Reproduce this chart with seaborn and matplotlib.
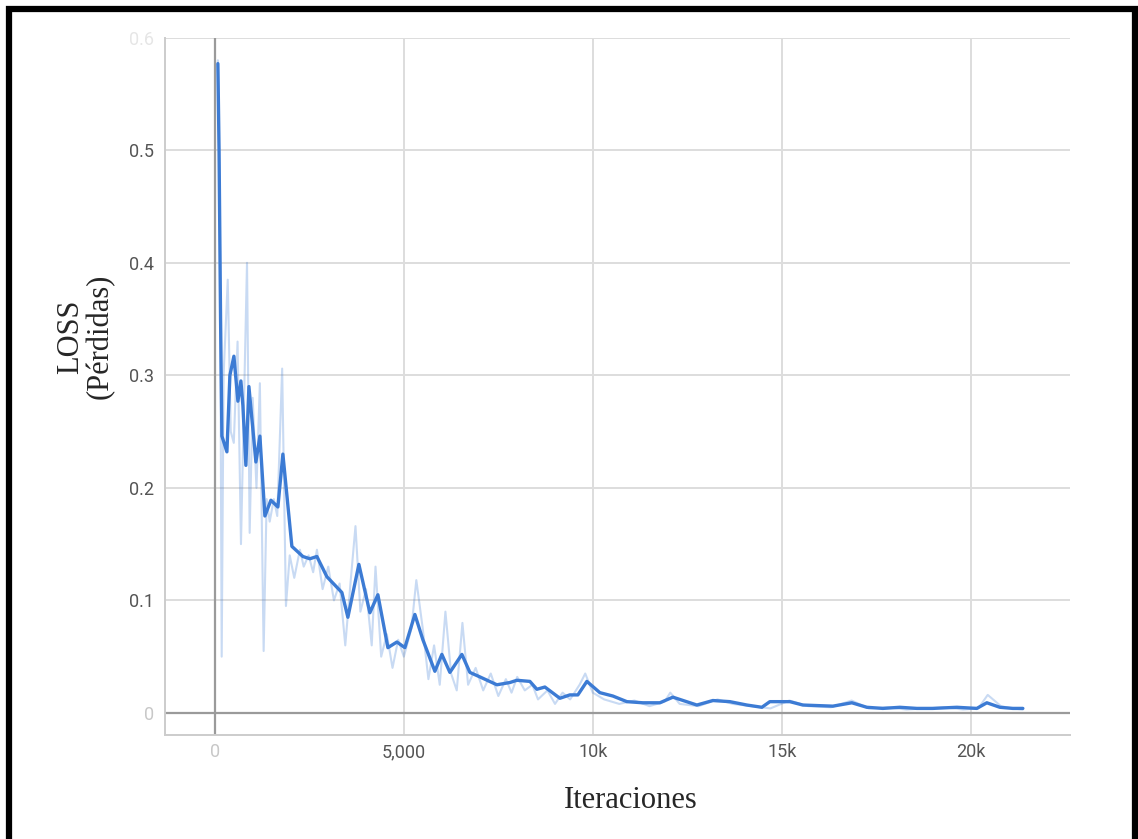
import numpy as np
import pandas as pd
import seaborn as sns
import matplotlib.pyplot as plt
from matplotlib.patches import Rectangle

# smoothed loss curve
smooth_steps = [79, 110, 150, 185, 318, 397, 503, 609, 688, 741, 820, 900, 1085, 1191,
                1323, 1482, 1667, 1799, 2037, 2328, 2514, 2699, 2964, 3360, 3519, 3810,
                4101, 4313, 4578, 4816, 5027, 5292, 5504, 5821, 6006, 6218, 6536, 6747,
                7012, 7462, 7806, 7991, 8335, 8520, 8732, 9129, 9393, 9605, 9843, 10187,
                10531, 10902, 11325, 11775, 12119, 12754, 13177, 13627, 14077, 14474,
                14685, 15215, 15558, 16352, 16855, 17252, 17675, 18125, 18575, 18998,
                19633, 20162, 20427, 20771, 21115, 21380]
smooth_loss = [0.577, 0.50, 0.35, 0.246, 0.232, 0.30, 0.317, 0.277, 0.295, 0.273, 0.22,
               0.29, 0.223, 0.246, 0.175, 0.189, 0.183, 0.230, 0.148, 0.139, 0.137, 0.139,
               0.121, 0.107, 0.085, 0.132, 0.089, 0.105, 0.058, 0.063, 0.058, 0.0875, 0.065,
               0.037, 0.052, 0.036, 0.052, 0.036, 0.032, 0.025, 0.027, 0.029, 0.028, 0.021,
               0.023, 0.013, 0.016, 0.016, 0.028, 0.018, 0.015, 0.010, 0.009, 0.009, 0.014,
               0.007, 0.011, 0.010, 0.007, 0.005, 0.010, 0.010, 0.007, 0.006, 0.009, 0.005,
               0.004, 0.005, 0.004, 0.004, 0.005, 0.004, 0.009, 0.005, 0.004, 0.004]

# raw (unsmoothed) loss, faint line behind
raw_steps = [79, 130, 180, 230, 340, 420, 500, 600, 690, 760, 850, 920, 1000, 1100, 1190,
             1290, 1370, 1450, 1560, 1650, 1780, 1880, 1980, 2100, 2250, 2350, 2480, 2600,
             2700, 2850, 3000, 3150, 3300, 3450, 3600, 3720, 3850, 4000, 4150, 4250, 4400,
             4550, 4700, 4850, 5000, 5200, 5330, 5500, 5650, 5800, 5950, 6100, 6250, 6400,
             6550, 6700, 6900, 7100, 7300, 7500, 7700, 7850, 8000, 8200, 8400, 8550, 8800,
             9000, 9200, 9400, 9650, 9800, 10000, 10300, 10700, 11100, 11500, 11900, 12050,
             12300, 12800, 13300, 13700, 14200, 14700, 15200, 15700, 16300, 16850, 17300,
             17800, 18300, 18800, 19300, 19800, 20200, 20450, 20800, 21100, 21380]
raw_loss = [0.58, 0.45, 0.05, 0.30, 0.385, 0.25, 0.24, 0.33, 0.15, 0.26, 0.40, 0.16, 0.28,
            0.20, 0.293, 0.055, 0.19, 0.17, 0.19, 0.175, 0.306, 0.095, 0.14, 0.12, 0.145,
            0.13, 0.14, 0.125, 0.145, 0.11, 0.13, 0.10, 0.115, 0.06, 0.12, 0.166, 0.09, 0.11,
            0.06, 0.13, 0.05, 0.07, 0.04, 0.065, 0.05, 0.075, 0.118, 0.075, 0.03, 0.06, 0.025,
            0.09, 0.035, 0.02, 0.08, 0.025, 0.04, 0.02, 0.035, 0.015, 0.03, 0.018, 0.032,
            0.02, 0.025, 0.012, 0.02, 0.008, 0.018, 0.012, 0.025, 0.035, 0.018, 0.012, 0.008,
            0.011, 0.006, 0.010, 0.018, 0.008, 0.006, 0.012, 0.008, 0.006, 0.004, 0.011,
            0.006, 0.005, 0.011, 0.004, 0.005, 0.003, 0.004, 0.005, 0.003, 0.004, 0.016,
            0.006, 0.004, 0.003]

x_ticks = [0, 5000, 10000, 15000, 20000]
x_tick_labels = ["0", "5,000", "10k", "15k", "20k"]
y_ticks = [0, 0.1, 0.2, 0.3, 0.4, 0.5, 0.6]
y_tick_labels = ["0", "0.1", "0.2", "0.3", "0.4", "0.5", "0.6"]

smoothDf = pd.DataFrame({"Step": smooth_steps, "Loss": smooth_loss})
rawDf = pd.DataFrame({"Step": raw_steps, "Loss": raw_loss})

sns.set_style("whitegrid")
plt.rcParams["font.family"] = ["Roboto", "DejaVu Sans"]

lineColor = "#3c7bd4"
fig = plt.figure(figsize=(11.38, 8.39), dpi=100)
ax = fig.add_axes([0.145, 0.124, 0.795, 0.831])

sns.lineplot(data=rawDf, x="Step", y="Loss", ax=ax, color=lineColor, alpha=0.28, linewidth=1.5)
sns.lineplot(data=smoothDf, x="Step", y="Loss", ax=ax, color=lineColor, linewidth=2.4,
             solid_joinstyle="round", solid_capstyle="round")

ax.set_xlim(-1320, 22620)
ax.set_ylim(-0.0196, 0.6)
ax.set_xticks(x_ticks)
ax.set_xticklabels(x_tick_labels)
ax.set_yticks(y_ticks)
ax.set_yticklabels(y_tick_labels)
ax.tick_params(axis="both", length=0, labelsize=13, labelcolor="#555555")
ax.tick_params(axis="y", pad=8)
ax.tick_params(axis="x", pad=6)
# faded labels at the ends, like the screenshot
ax.get_xticklabels()[0].set_color("#c8c8c8")
ax.get_yticklabels()[0].set_color("#c8c8c8")
ax.get_yticklabels()[-1].set_color("#e6e6e6")

ax.grid(True, color="#dddddd", linewidth=1.4)
ax.axhline(0, color="#9a9a9a", linewidth=1.6, zorder=1)
ax.axvline(0, color="#9a9a9a", linewidth=1.6, zorder=1)

for side in ["top", "right"]:
    ax.spines[side].set_visible(False)
for side in ["left", "bottom"]:
    ax.spines[side].set_color("#cccccc")
    ax.spines[side].set_linewidth(1.4)

ax.set_xlabel("")
ax.set_ylabel("")
fig.text(0.075, 0.599, "LOSS\n(Pérdidas)", rotation=90, ha="center", va="center",
         family="Liberation Serif", fontsize=22, linespacing=1.0)
fig.text(0.554, 0.046, "Iteraciones", ha="center", va="center",
         family="Liberation Serif", fontsize=22)

# black frame round the screenshot
fig.patches.append(Rectangle((0.0079, -0.2), 0.9895, 1.1893, transform=fig.transFigure,
                             fill=False, edgecolor="black", linewidth=4.5, figure=fig))

plt.savefig("out.png", dpi=100)
